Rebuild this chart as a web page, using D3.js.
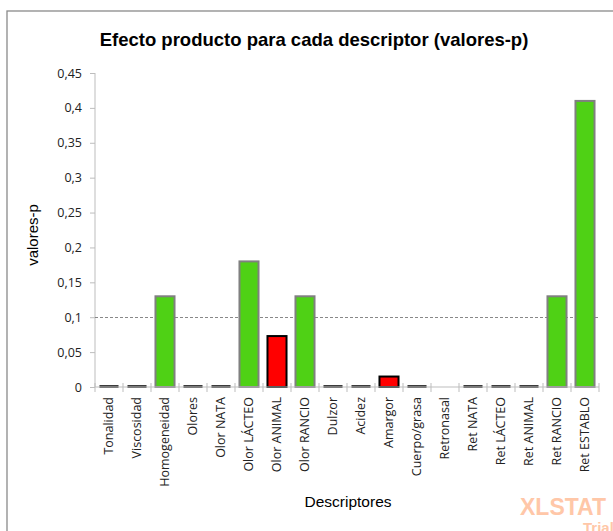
<!DOCTYPE html>
<html>
<head>
<meta charset="utf-8">
<script src="https://cdn.jsdelivr.net/npm/d3@7"></script>
<style>
 body { margin: 0; background: #fff; }
 svg { display: block; }
</style>
</head>
<body>
<script>
// *** data
var descriptores = ["Tonalidad", "Viscosidad", "Homogeneidad", "Olores", "Olor NATA", "Olor LÁCTEO",
 "Olor ANIMAL", "Olor RANCIO", "Dulzor", "Acidez", "Amargor", "Cuerpo/grasa", "Retronasal",
 "Ret NATA", "Ret LÁCTEO", "Ret ANIMAL", "Ret RANCIO", "Ret ESTABLO"];
var pValores = [0, 0, 0.13, 0, 0, 0.18, 0.073, 0.13, 0, 0, 0.015, 0, null, 0, 0, 0, 0.13, 0.41];
var yTicks = [0, 0.05, 0.1, 0.15, 0.2, 0.25, 0.3, 0.35, 0.4, 0.45];
var umbral = 0.1;

var width = 613
var height = 531

var svg = d3.select("body")
 .append("svg")
 .attr("width", width)
 .attr("height", height);

// frame of the chart area (runs off the right and bottom)
svg.append("rect")
 .attr("x", 7)
 .attr("y", 11)
 .attr("width", 640)
 .attr("height", 560)
 .attr("fill", "none")
 .attr("stroke", "#8a8a8a")
 .attr("stroke-width", 1.3);

var xScale = d3.scaleBand()
 .domain(descriptores)
 .range([95, 599])
 .paddingInner(0.32)
 .paddingOuter(0.16);

var yScale = d3.scaleLinear()
 .domain([0, 0.45])
 .range([387, 73]);

var fmt = function(d) { return d3.format("~g")(d).replace(".", ","); };

// y axis
var yAxis = d3.axisLeft(yScale)
 .tickValues(yTicks)
 .tickSize(6)
 .tickFormat(fmt);

var gy = svg.append("g")
 .attr("transform", "translate(95,0)")
 .call(yAxis);
gy.select(".domain").attr("stroke", "#bdbdbd").attr("d", "M0," + yScale(0.45) + "V" + yScale(0));
gy.selectAll(".tick line").attr("stroke", "#bdbdbd").attr("x1", -5).attr("x2", 0);
gy.selectAll(".tick text")
 .attr("x", -13)
 .attr("font-family", "Open Sans")
 .attr("font-size", 12.5)
 .attr("fill", "#222");

// dashed threshold line
svg.append("line")
 .attr("x1", 95)
 .attr("x2", 599)
 .attr("y1", Math.round(yScale(umbral)) + 0.5)
 .attr("y2", Math.round(yScale(umbral)) + 0.5)
 .attr("stroke", "#7a7a7a")
 .attr("stroke-width", 0.9)
 .attr("stroke-dasharray", "3,2");

// bars
var barras = descriptores.map(function(d, i) { return { name: d, p: pValores[i] }; })
 .filter(function(d) { return d.p !== null; });

svg.selectAll("rect.bar")
 .data(barras)
 .enter()
 .append("rect")
 .attr("class", "bar")
 .attr("x", function(d) { return xScale(d.name); })
 .attr("width", xScale.bandwidth())
 .attr("y", function(d) { return d.p === 0 ? Math.round(yScale(0)) - 2 : yScale(d.p); })
 .attr("height", function(d) { return d.p === 0 ? 3 : yScale(0) - yScale(d.p); })
 .attr("fill", function(d) {
  if (d.p === 0) return "#3c3c3c";
  return d.p < umbral ? "#ff0000" : "#4fd115";
 })
 .attr("stroke", function(d) {
  if (d.p === 0) return "none";
  return d.p < umbral ? "#000" : "#808080";
 })
 .attr("stroke-width", 2);

// x axis
var xAxis = d3.axisBottom(xScale).tickSize(0);
var gx = svg.append("g")
 .attr("transform", "translate(0," + yScale(0) + ")")
 .call(xAxis);
gx.select(".domain").attr("stroke", "#bdbdbd").attr("d", "M95,0H599");
gx.selectAll(".tick text")
 .attr("transform", "rotate(-90)")
 .attr("text-anchor", "end")
 .attr("x", -10)
 .attr("y", 0)
 .attr("dy", "0.35em")
 .attr("font-family", "Open Sans")
 .attr("font-size", 12.5)
 .attr("fill", "#222");

// tick marks between categories
var step = xScale.step();
var cortes = d3.range(descriptores.length + 1);
gx.selectAll("line.corte")
 .data(cortes)
 .enter()
 .append("line")
 .attr("class", "corte")
 .attr("x1", function(d) { return 95 + d * step; })
 .attr("x2", function(d) { return 95 + d * step; })
 .attr("y1", -4)
 .attr("y2", 5)
 .attr("stroke", "#bdbdbd");

// title
svg.append("text")
 .attr("x", 314)
 .attr("y", 46)
 .attr("text-anchor", "middle")
 .attr("font-family", "Liberation Sans, Arial")
 .attr("font-weight", "bold")
 .attr("font-size", 18.5)
 .attr("fill", "#000")
 .text("Efecto producto para cada descriptor (valores-p)");

// y axis label
svg.append("text")
 .attr("transform", "translate(38," + 235 + ") rotate(-90)")
 .attr("text-anchor", "middle")
 .attr("font-family", "Liberation Sans, Arial")
 .attr("font-size", 15)
 .attr("fill", "#000")
 .text("valores-p");

// x axis label
svg.append("text")
 .attr("x", 348)
 .attr("y", 507)
 .attr("text-anchor", "middle")
 .attr("font-family", "Liberation Sans, Arial")
 .attr("font-size", 15.5)
 .attr("fill", "#000")
 .text("Descriptores");

// watermark
svg.append("text")
 .attr("x", 520)
 .attr("y", 515)
 .attr("font-family", "Liberation Sans, Arial")
 .attr("font-weight", "bold")
 .attr("font-size", 23)
 .attr("fill", "#ffc7a8")
 .text("XLSTAT");
svg.append("text")
 .attr("x", 583)
 .attr("y", 533)
 .attr("font-family", "Liberation Sans, Arial")
 .attr("font-weight", "bold")
 .attr("font-size", 15)
 .attr("fill", "#ffc7a8")
 .text("Trial");
</script>
</body>
</html>
